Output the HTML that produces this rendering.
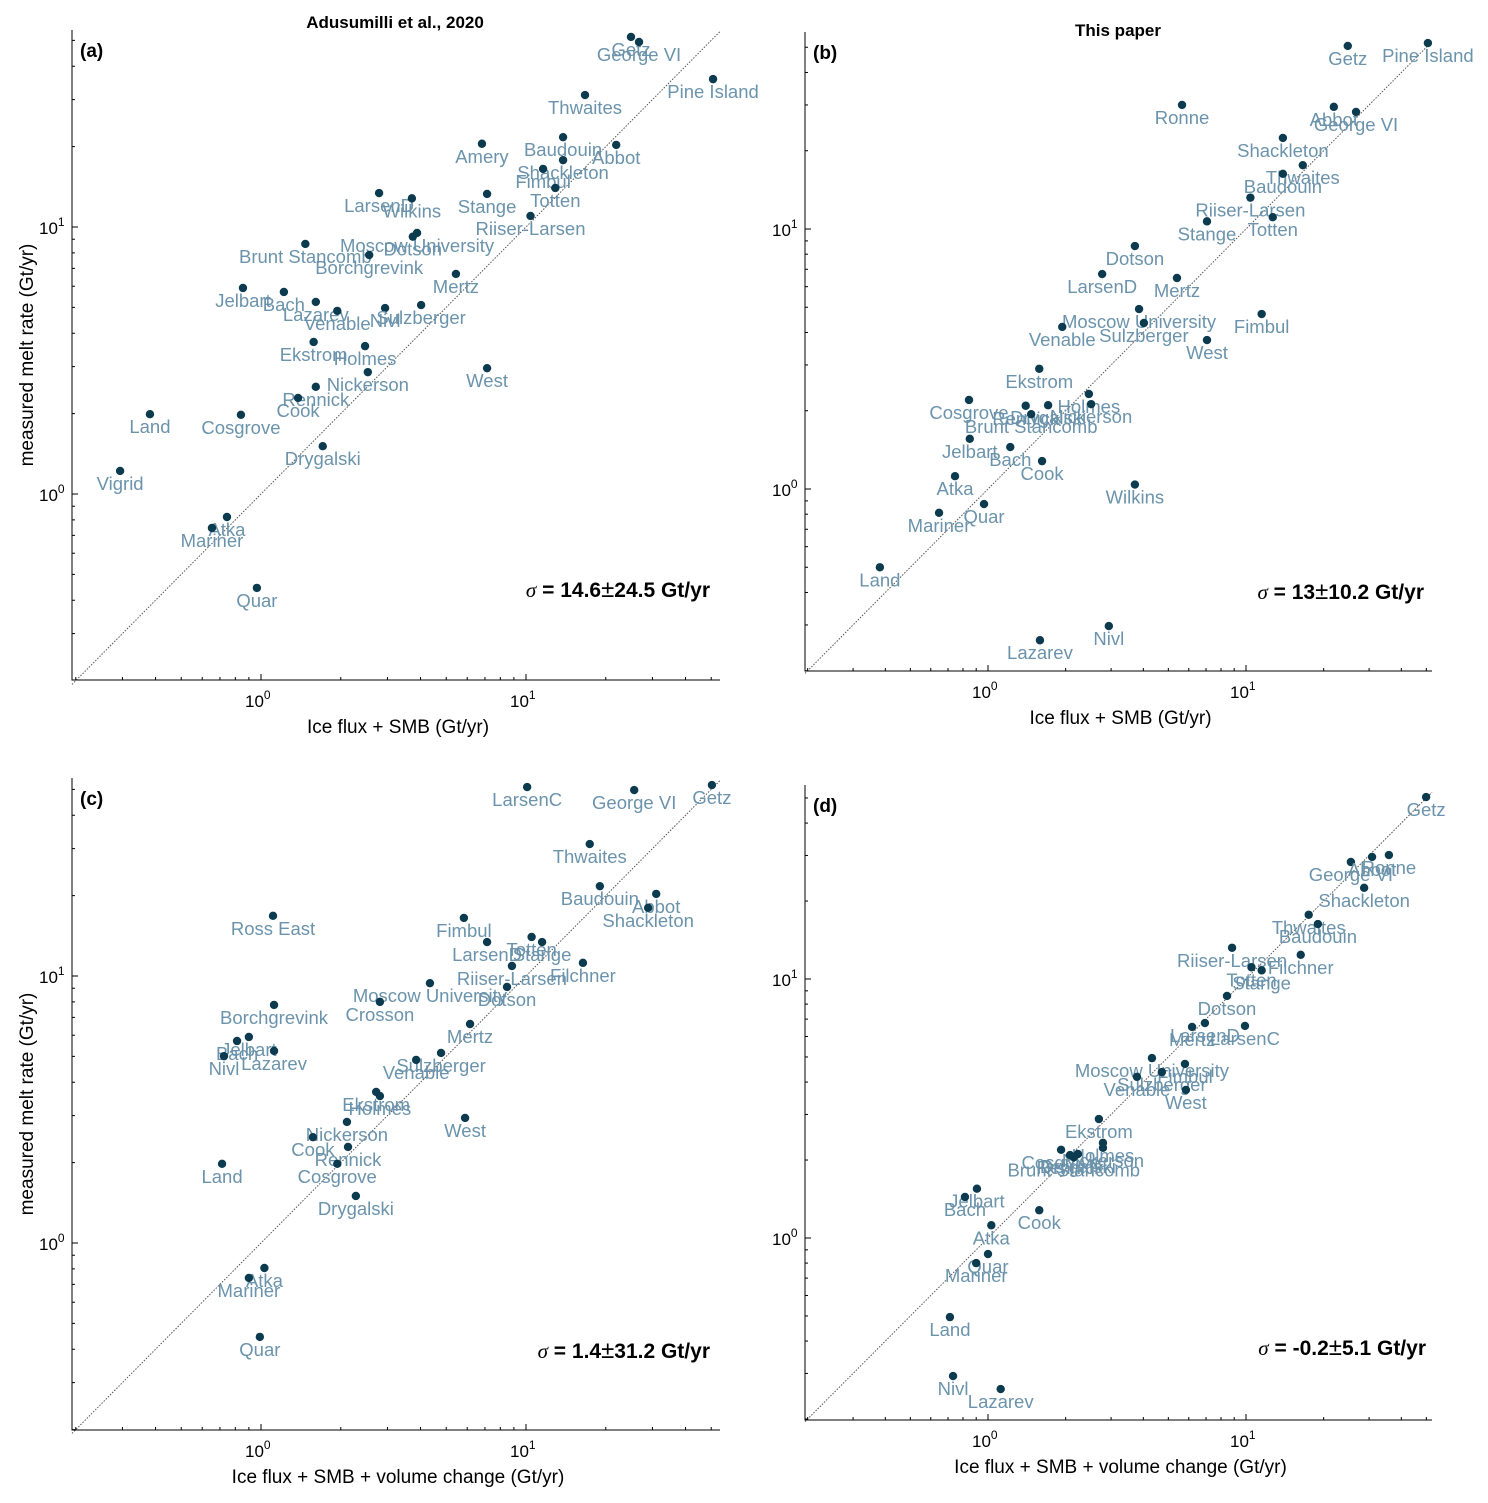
<!DOCTYPE html>
<html><head><meta charset="utf-8"><style>
body{margin:0;background:#fff;}
svg{display:block;font-family:"Liberation Sans",sans-serif;}
</style></head><body>
<svg id="fig" width="1488" height="1503" viewBox="0 0 1488 1503" xmlns="http://www.w3.org/2000/svg">
<text x="395" y="28" font-size="17" font-weight="bold" text-anchor="middle">Adusumilli et al., 2020</text>
<text x="1118" y="36" font-size="17" font-weight="bold" text-anchor="middle">This paper</text>
</svg>
<script>
// Panel (a)
const aNames=["Getz","George VI","Pine Island","Thwaites","Baudouin","Abbot","Amery","Shackleton","Fimbul","Totten","Stange","LarsenD","Wilkins","Riiser-Larsen","Moscow University","Dotson","Brunt Stancomb","Borchgrevink","Mertz","Jelbart","Bach","Lazarev","Venable","Nivl","Sulzberger","Ekstrom","Holmes","West","Nickerson","Rennick","Cook","Land","Cosgrove","Drygalski","Vigrid","Atka","Mariner","Quar"];
const aX=[24.9,26.7,50.8,16.7,13.8,21.9,6.82,13.8,11.6,12.9,7.13,2.79,3.71,10.4,3.88,3.74,1.47,2.56,5.44,0.855,1.22,1.61,1.94,2.94,4.02,1.58,2.47,7.13,2.53,1.61,1.38,0.381,0.84,1.71,0.294,0.744,0.653,0.965];
const aY=[51.5,49.3,35.8,31.2,21.7,20.3,20.5,17.8,16.5,14.0,13.3,13.4,12.8,11.0,9.5,9.2,8.64,7.85,6.67,5.91,5.71,5.24,4.85,4.97,5.1,3.71,3.58,2.96,2.86,2.52,2.29,1.99,1.98,1.51,1.22,0.82,0.746,0.445];
// Panel (b)
const bNames=["Pine Island","Getz","Ronne","Abbot","George VI","Shackleton","Thwaites","Baudouin","Riiser-Larsen","Totten","Stange","Dotson","LarsenD","Mertz","Moscow University","Fimbul","Sulzberger","Venable","West","Ekstrom","Cosgrove","Rennick","Drygalski","Brunt Stancomb","Holmes","Nickerson","Jelbart","Bach","Cook","Atka","Wilkins","Quar","Mariner","Land","Nivl","Lazarev"];
const bX=[50.7,24.8,5.65,21.9,26.7,13.9,16.6,13.9,10.4,12.7,7.06,3.71,2.77,5.4,3.85,11.5,4.02,1.94,7.06,1.58,0.844,1.40,1.71,1.47,2.46,2.51,0.85,1.22,1.62,0.745,3.71,0.965,0.646,0.381,2.94,1.59];
const bY=[51.9,50.6,30.0,29.5,28.2,22.4,17.6,16.3,13.2,11.1,10.7,8.6,6.71,6.48,4.92,4.71,4.35,4.2,3.74,2.9,2.2,2.09,2.1,1.94,2.32,2.12,1.56,1.45,1.28,1.12,1.04,0.875,0.81,0.5,0.297,0.262];
// Panel (c)
const cNames=["Getz","LarsenC","George VI","Thwaites","Baudouin","Abbot","Shackleton","Ross East","Fimbul","LarsenD","Totten","Stange","Riiser-Larsen","Filchner","Dotson","Moscow University","Crosson","Borchgrevink","Mertz","Jelbart","Bach","Nivl","Lazarev","Sulzberger","Venable","Ekstrom","Holmes","West","Nickerson","Cook","Rennick","Cosgrove","Land","Drygalski","Atka","Mariner","Quar"];
const cX=[50.3,10.1,25.6,17.4,19.0,31.0,28.9,1.11,5.83,7.13,10.5,11.5,8.85,16.4,8.48,4.34,2.81,1.12,6.15,0.9,0.812,0.725,1.12,4.78,3.85,2.72,2.81,5.89,2.11,1.57,2.13,1.94,0.713,2.28,1.03,0.9,0.99];
const cY=[51.9,51.0,49.7,31.2,21.7,20.3,18.0,16.8,16.5,13.4,14.0,13.4,10.9,11.2,9.1,9.4,8.0,7.79,6.61,5.91,5.71,5.01,5.24,5.15,4.85,3.68,3.55,2.94,2.84,2.49,2.29,1.98,1.98,1.50,0.806,0.74,0.445];
// Panel (d)
const dNames=["Getz","George VI","Abbot","Ronne","Shackleton","Thwaites","Baudouin","Riiser-Larsen","Totten","Stange","Filchner","Dotson","LarsenD","Mertz","LarsenC","Moscow University","Fimbul","Sulzberger","Venable","West","Ekstrom","Holmes","Nickerson","Cosgrove","Rennick","Drygalski","Brunt Stancomb","Jelbart","Bach","Cook","Atka","Quar","Mariner","Land","Nivl","Lazarev"];
const dX=[49.9,25.5,30.8,35.8,28.7,17.5,19.0,8.83,10.5,11.5,16.3,8.44,6.93,6.18,9.91,4.32,5.8,4.72,3.78,5.85,2.69,2.79,2.79,1.92,2.08,2.23,2.15,0.906,0.814,1.58,1.03,1.0,0.9,0.712,0.732,1.12];
const dY=[50.4,28.3,29.6,30.1,22.5,17.7,16.3,13.2,11.1,10.8,12.4,8.6,6.76,6.53,6.59,4.95,4.7,4.37,4.19,3.73,2.88,2.33,2.23,2.19,2.09,2.11,2.05,1.55,1.44,1.28,1.12,0.867,0.8,0.495,0.293,0.261];
const sigmas=["14.6","13","1.4","-0.2"];
const sigmaErr=["24.5","10.2","31.2","5.1"];

const NS="http://www.w3.org/2000/svg";
const svg=document.getElementById('fig');
function mk(tag,attrs,parent){const e=document.createElementNS(NS,tag);for(const k in attrs)e.setAttribute(k,attrs[k]);(parent||svg).appendChild(e);return e;}

const panels=[
 {id:'a',names:aNames,xs:aX,ys:aY,L:72,R:720,T:30,B:680,x0:261,dx:265,y0:494,dy:267,xt:"Ice flux + SMB (Gt/yr)",ylab:true,sx:710,sy:597},
 {id:'b',names:bNames,xs:bX,ys:bY,L:805,R:1432,T:32,B:671,x0:988,dx:258,y0:489,dy:260,xt:"Ice flux + SMB (Gt/yr)",ylab:false,sx:1424,sy:599},
 {id:'c',names:cNames,xs:cX,ys:cY,L:72,R:720,T:778,B:1430,x0:261,dx:265,y0:1243,dy:267,xt:"Ice flux + SMB + volume change (Gt/yr)",ylab:true,sx:710,sy:1358},
 {id:'d',names:dNames,xs:dX,ys:dY,L:805,R:1432,T:785,B:1420,x0:988,dx:258,y0:1238,dy:259,xt:"Ice flux + SMB + volume change (Gt/yr)",ylab:false,sx:1426,sy:1355}
];

panels.forEach((p,pi)=>{
 const X=v=>p.x0+Math.log10(v)*p.dx;
 const Y=v=>p.y0-Math.log10(v)*p.dy;
 const g=mk('g',{});
 
 
 const lo=Math.pow(10,(p.L-p.x0)/p.dx), hi=Math.pow(10,(p.R-p.x0)/p.dx);
 const ln=mk('line',{x1:X(lo),y1:Y(lo),x2:X(hi),y2:Y(hi),stroke:'#555','stroke-width':1,'stroke-dasharray':'1.5,1.5'},g);
 
 
 const ax=mk('path',{d:`M${p.L},${p.T}V${p.B}H${p.R}`,fill:'none',stroke:'#000','stroke-width':1},g);
 
 
 for(let e=-1;e<=1;e++){for(let m=1;m<10;m++){const v=m*Math.pow(10,e);
  const len=m===1?6:3;
  const xx=X(v); if(xx>=p.L-0.5&&xx<=p.R+0.5) mk('line',{x1:xx,y1:p.B,x2:xx,y2:p.B-len,stroke:'#000','stroke-width':1},g);
  const yy=Y(v); if(yy>=p.T-0.5&&yy<=p.B+0.5) mk('line',{x1:p.L,y1:yy,x2:p.L+len,y2:yy,stroke:'#000','stroke-width':1},g);
 }}
 [0,1].forEach(e=>{
  const t=mk('text',{x:X(Math.pow(10,e))-16,y:p.B+27,'font-size':17},g);
  
  
  t.innerHTML='10<tspan font-size="12" dy="-8">'+e+'</tspan>';
  const yy=Y(Math.pow(10,e));
  const t2=mk('text',{x:p.L-33,y:yy+7,'font-size':17},g);
  
  
  t2.innerHTML='10<tspan font-size="12" dy="-8">'+e+'</tspan>';
 });
 const xt=mk('text',{x:(p.L+p.R)/2+2,y:p.B+53,'font-size':19,'text-anchor':'middle'},g);
 
 
 xt.textContent=p.xt;
 if(p.ylab){const yt=mk('text',{x:0,y:0,'font-size':19,'text-anchor':'middle',transform:`translate(33,${(p.T+p.B)/2}) rotate(-90)`},g);
  
  
  yt.textContent='measured melt rate (Gt/yr)';}
 const pl=mk('text',{x:p.L+8,y:p.T+27,'font-size':19,'font-weight':'bold'},g);
 
 
 pl.textContent='('+p.id+')';
 p.names.forEach((n,i)=>{
  const cx=X(p.xs[i]), cy=Y(p.ys[i]);
  const c=mk('circle',{cx:cx,cy:cy,r:4.2,fill:'#0c3a4e'},g);
  
  
  const t=mk('text',{x:cx,y:cy+19,'font-size':18.5,'text-anchor':'middle',fill:'#6b93ab'},g);
  
  
  t.textContent=n;
 });
 const st=mk('text',{x:p.sx,y:p.sy,'font-size':21,'font-weight':'bold','text-anchor':'end'},g);
 
 
 st.innerHTML='<tspan font-style="italic" font-weight="normal" font-family="Liberation Serif">σ</tspan> = '+sigmas[pi]+'<tspan font-weight="normal" font-size="24">±</tspan>'+sigmaErr[pi]+' Gt/yr';
});
</script>
</body></html>
